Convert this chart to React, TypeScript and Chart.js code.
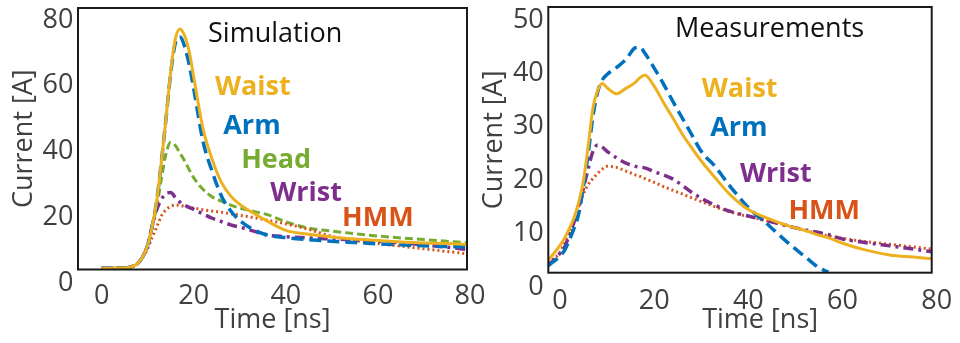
import React, { useEffect, useRef } from "react";
import { Chart, registerables } from "chart.js";

Chart.register(...registerables);

// ---------------- Data: Simulation panel ----------------
const simTime = [0, 5, 7, 8, 9, 10, 11, 12, 13, 14, 15, 16, 17, 18, 19, 20, 22, 24, 26, 28, 30, 33, 36, 40, 45, 50, 55, 60, 65, 70, 75, 80];
const simWaist = [4.5, 4.6, 5.2, 6.2, 8.2, 11.6, 17.5, 25.5, 37.4, 50.5, 64.5, 74.3, 77.3, 75.3, 70.5, 62.5, 47, 37.6, 30.6, 26.5, 23.9, 21.2, 18.8, 16.0, 14.8, 14.0, 13.4, 12.9, 12.5, 12.2, 12.0, 11.7];
const simArm = [4.5, 4.6, 5.2, 6.2, 8.2, 11.6, 17.5, 25.5, 37.4, 50.5, 64, 73, 74.8, 72, 66.5, 59, 43.1, 33.9, 26.5, 22, 19, 16.2, 14.6, 13.8, 13.2, 12.7, 12.3, 11.9, 11.6, 11.3, 11.1, 11.0];
const simHead = [4.5, 4.6, 5.2, 6.2, 8.2, 11.6, 17.5, 23.5, 32, 39.5, 42.8, 41.8, 39.5, 37.2, 34.5, 32, 28.5, 26.2, 24.9, 23.7, 22.8, 21.8, 20.8, 18.6, 16.7, 15.8, 15.0, 14.3, 13.7, 13.2, 12.7, 12.2];
const simWrist = [4.5, 4.6, 5.2, 6.2, 8.2, 11.6, 17.5, 22.5, 25.5, 27.3, 27.5, 26, 24.6, 23.7, 23, 22.4, 21, 19.7, 18.7, 17.7, 17, 15.8, 14.6, 14.1, 13.7, 13.4, 13.1, 12.7, 12.2, 11.6, 10.9, 10.1];
const simHMM = [4.5, 4.6, 5.2, 6.2, 8.0, 10.5, 14, 17.2, 20.5, 22.3, 23.3, 23.7, 23.6, 23.3, 23.0, 22.8, 22.3, 21.9, 21.5, 21.1, 20.6, 19.9, 19.1, 18, 16.3, 14.2, 12.9, 12, 11.2, 10.4, 9.6, 8.8];

// ---------------- Data: Measurements panel ----------------
const measTime = [-2.5, 0, 1, 2, 3, 4, 5, 6, 7, 8, 9, 10, 12, 14, 16, 17, 18, 20, 22, 24, 26, 28, 30, 33, 36, 40, 44, 48, 52, 55, 57, 60, 65, 70, 75, 79];
const measWaist = [5.0, 7.8, 9.2, 11.0, 13.0, 16.0, 20.0, 26.5, 33.5, 36.8, 38.1, 37.3, 36.2, 37.2, 38.3, 39.2, 39.7, 37.6, 34.5, 31.6, 28.6, 26.0, 23.6, 20.4, 17.4, 14.5, 12.9, 11.6, 10.6, 9.7, 9.2, 8.2, 6.9, 6.0, 5.6, 5.3];
const measArm = [4.0, 5.8, 6.9, 8.8, 11.0, 13.8, 19.0, 25.0, 32.0, 36.5, 38.8, 39.8, 41.1, 42.6, 44.8, 44.9, 43.8, 41.0, 38.0, 34.7, 31.6, 28.5, 25.4, 22.5, 19.0, 14.9, 11.8, 8.6, 5.7, 3.6, 2.8, null, null, null, null, null];
const measWrist = [4.0, 6.3, 7.5, 9.8, 12.2, 15.0, 18.6, 22.2, 25.4, 26.6, 26.2, 25.4, 24.2, 23.2, 22.6, 22.4, 22.3, 21.6, 21.0, 20.2, 19.0, 17.7, 16.6, 15.3, 14.2, 13.3, 12.4, 11.5, 10.7, 10.2, 9.8, 9.0, 8.3, 7.7, 7.1, 6.6];
const measHMM = [4.5, 6.5, 8.3, 10.0, 12.3, 15.2, 17.5, 19.2, 20.3, 21.3, 22.1, 22.6, 22.4, 21.7, 21.0, 20.7, 20.3, 19.6, 18.8, 18.1, 17.4, 16.7, 16.0, 15.0, 14.1, 13.2, 12.4, 11.6, 10.6, 10.0, 9.6, 9.1, 8.5, 8.0, 7.5, 7.1];

// ---------------- Tick labels ----------------
const timeTicks = [0, 20, 40, 60, 80];
const simCurrentTicks = [0, 20, 40, 60, 80];
const measCurrentTicks = [0, 10, 20, 30, 40, 50];

const FONT = "'Open Sans', 'Noto Sans', sans-serif";
const TEXT_GRAY = "#404040";
const C = {
  waist: "#EDB120",
  arm: "#0072BD",
  head: "#77AC30",
  wrist: "#7E2F8E",
  hmm: "#D95319",
};

type Style = { color: string; width: number; dash: number[] };
const STYLES: Record<string, Style> = {
  Waist: { color: C.waist, width: 3, dash: [] },
  Arm: { color: C.arm, width: 3.5, dash: [12, 6] },
  Head: { color: C.head, width: 3, dash: [8, 4] },
  Wrist: { color: C.wrist, width: 3.5, dash: [10, 5, 3, 5] },
  HMM: { color: C.hmm, width: 3, dash: [2, 3] },
};

function dataset(name: string, time: number[], vals: (number | null)[]) {
  const s = STYLES[name];
  return {
    label: name,
    data: time.map((t, i) => ({ x: t, y: vals[i] })),
    borderColor: s.color,
    backgroundColor: s.color,
    borderWidth: s.width,
    borderDash: s.dash,
    borderJoinStyle: "round" as const,
    pointRadius: 0,
    tension: 0.4,
    cubicInterpolationMode: "monotone" as const,
    fill: false,
  };
}

type Ann = { text: string; t: number; v: number; color: string; bold?: boolean; align?: CanvasTextAlign };

function makePlugins(items: Ann[]) {
  return [
    {
      id: "frame",
      afterDatasetsDraw(chart: any) {
        const { ctx, chartArea: a } = chart;
        ctx.save();
        ctx.strokeStyle = "#1a1a1a";
        ctx.lineWidth = 2;
        ctx.strokeRect(a.left, a.top, a.right - a.left, a.bottom - a.top);
        ctx.restore();
      },
    },
    {
      id: "labels",
      afterDraw(chart: any) {
        const { ctx, scales } = chart;
        ctx.save();
        for (const it of items) {
          ctx.font = `${it.bold ? "bold " : ""}27px ${FONT}`;
          ctx.fillStyle = it.color;
          ctx.textAlign = it.align || "left";
          ctx.textBaseline = "middle";
          ctx.fillText(it.text, scales.x.getPixelForValue(it.t), scales.y.getPixelForValue(it.v));
        }
        ctx.restore();
      },
    },
  ];
}

type PanelCfg = {
  time: number[];
  series: [string, (number | null)[]][];
  xMin: number;
  xMax: number;
  yMin: number;
  yMax: number;
  yTicks: number[];
  yWidth: number;
  xHeight: number;
  padTop: number;
  padRight: number;
  xTickPad: number;
  yTitlePad: number;
  showXTitle: boolean;
  annotations: Ann[];
};

function buildConfig(p: PanelCfg): any {
  const tickFont = { family: FONT, size: 27, lineHeight: 1.2 };
  const titleFont = { family: FONT, size: 27, lineHeight: 1 };
  return {
    type: "line",
    data: { datasets: p.series.map(([n, v]) => dataset(n, p.time, v)) },
    options: {
      animation: false,
      responsive: false,
      devicePixelRatio: 1,
      layout: { padding: { top: p.padTop, right: p.padRight, bottom: 0, left: 0 } },
      plugins: { legend: { display: false }, tooltip: { enabled: false } },
      scales: {
        x: {
          type: "linear",
          min: p.xMin,
          max: p.xMax,
          afterBuildTicks: (s: any) => {
            s.ticks = timeTicks.map((v) => ({ value: v }));
          },
          afterFit: (s: any) => {
            s.height = p.xHeight;
            s.paddingLeft = 0;
            s.paddingRight = 0;
          },
          grid: { display: false, drawTicks: false },
          border: { display: false },
          ticks: { autoSkip: false, maxRotation: 0, minRotation: 0, padding: p.xTickPad, color: TEXT_GRAY, font: tickFont },
          title: { display: p.showXTitle, text: "Time [ns]", color: TEXT_GRAY, font: titleFont, padding: { top: 0, bottom: 9 } },
        },
        y: {
          type: "linear",
          min: p.yMin,
          max: p.yMax,
          afterBuildTicks: (s: any) => {
            s.ticks = p.yTicks.map((v) => ({ value: v }));
          },
          afterFit: (s: any) => {
            s.width = p.yWidth;
            s.paddingTop = 0;
            s.paddingBottom = 0;
          },
          grid: { display: false, drawTicks: false },
          border: { display: false },
          ticks: { autoSkip: false, padding: 4.5, color: TEXT_GRAY, font: tickFont },
          title: { display: true, text: "Current [A]", color: TEXT_GRAY, font: titleFont, padding: { top: p.yTitlePad, bottom: 0 } },
        },
      },
    },
    plugins: makePlugins(p.annotations),
  };
}

const simPanel: PanelCfg = {
  time: simTime,
  series: [
    ["Waist", simWaist],
    ["Arm", simArm],
    ["Wrist", simWrist],
    ["HMM", simHMM],
    ["Head", simHead],
  ],
  xMin: -5.15,
  xMax: 79.35,
  yMin: 4.11,
  yMax: 83.65,
  yTicks: simCurrentTicks,
  yWidth: 78,
  xHeight: 73.5,
  padTop: 8,
  padRight: 33,
  xTickPad: 10.2,
  yTitlePad: 11,
  showXTitle: true,
  annotations: [
    { text: "Simulation", t: 23.1, v: 75.6, color: "#111111" },
    { text: "Waist", t: 24.6, v: 59.4, color: C.waist, bold: true },
    { text: "Arm", t: 26.4, v: 47.7, color: C.arm, bold: true },
    { text: "Head", t: 30.3, v: 37.3, color: C.head, bold: true },
    { text: "Wrist", t: 36.6, v: 27.4, color: C.wrist, bold: true },
    { text: "HMM", t: 52.2, v: 19.8, color: C.hmm, bold: true },
  ],
};

const measPanel: PanelCfg = {
  time: measTime,
  series: [
    ["Waist", measWaist],
    ["Arm", measArm],
    ["Wrist", measWrist],
    ["HMM", measHMM],
  ],
  xMin: -2.48,
  xMax: 78.93,
  yMin: 2.68,
  yMax: 52.43,
  yTicks: measCurrentTicks,
  yWidth: 68.3,
  xHeight: 70.3,
  padTop: 7,
  padRight: 28.3,
  xTickPad: 12,
  yTitlePad: 1,
  showXTitle: false,
  annotations: [
    { text: "Measurements", t: 24.4, v: 48.2, color: "#111111" },
    { text: "Waist", t: 30.1, v: 37.0, color: C.waist, bold: true },
    { text: "Arm", t: 31.9, v: 29.8, color: C.arm, bold: true },
    { text: "Wrist", t: 38.2, v: 21.1, color: C.wrist, bold: true },
    { text: "HMM", t: 48.5, v: 14.2, color: C.hmm, bold: true },
    { text: "Time [ns]", t: 42.5, v: -6.3, color: TEXT_GRAY, align: "center" },
  ],
};

function Panel({ left, width, cfg }: { left: number; width: number; cfg: PanelCfg }) {
  const ref = useRef<HTMLCanvasElement>(null);
  useEffect(() => {
    const chart = new Chart(ref.current as HTMLCanvasElement, buildConfig(cfg));
    return () => chart.destroy();
  }, [cfg]);
  return (
    <div style={{ position: "absolute", left, top: 0, width, height: 343 }}>
      <canvas ref={ref} width={width} height={343} style={{ width, height: 343, display: "block" }} />
    </div>
  );
}

export default function App() {
  return (
    <div style={{ position: "absolute", left: 0, top: 0, width: 960, height: 343, background: "#ffffff", overflow: "hidden" }}>
      <Panel left={0} width={500} cfg={simPanel} />
      <Panel left={480} width={480} cfg={measPanel} />
    </div>
  );
}
